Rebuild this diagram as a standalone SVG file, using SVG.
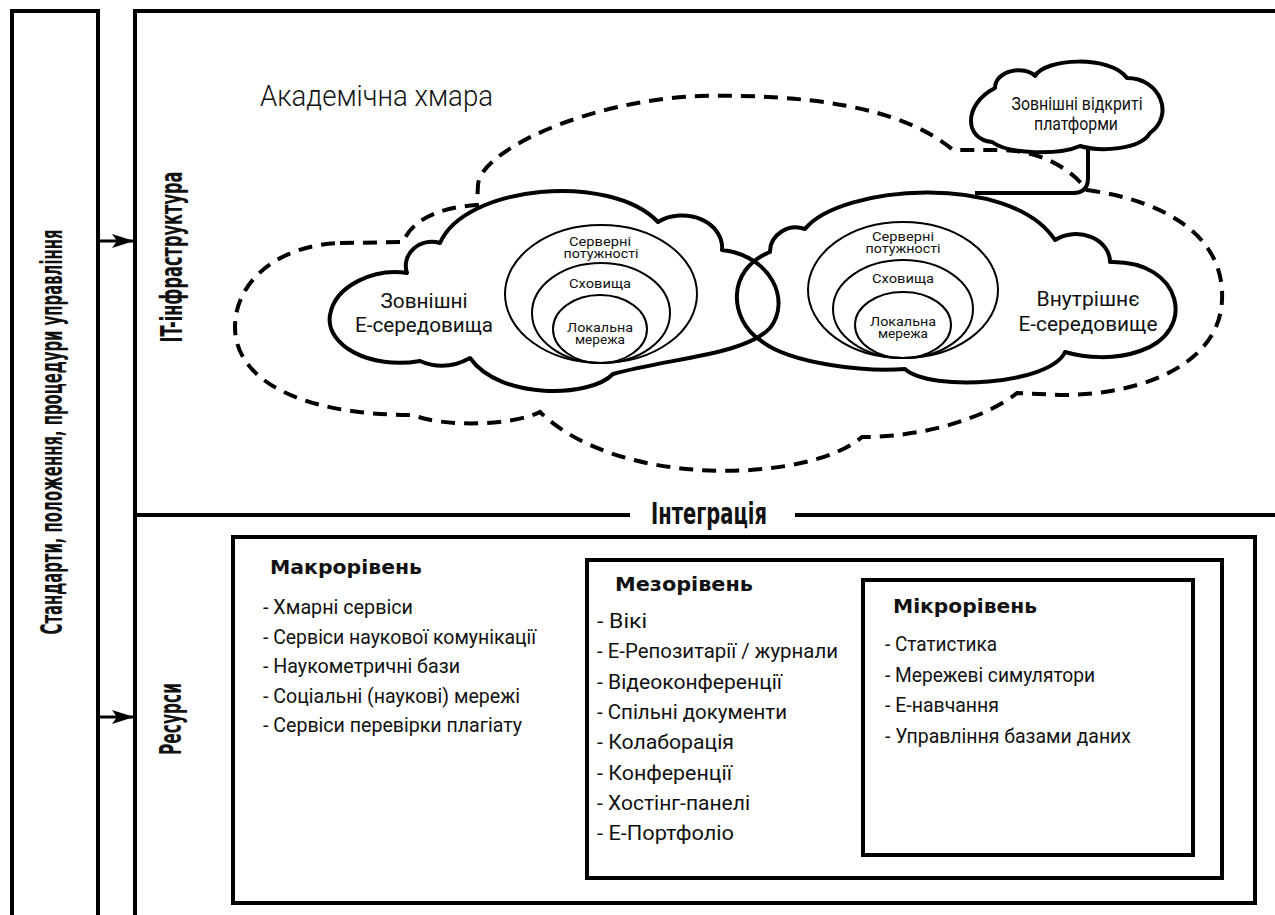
<svg xmlns="http://www.w3.org/2000/svg" width="1275" height="915" viewBox="0 0 1275 915">
  <defs>
    <style>
      .frame{fill:none;stroke:#000;stroke-width:4}
      .cloud{fill:none;stroke:#000;stroke-width:4;stroke-linejoin:round}
      .dash{fill:none;stroke:#000;stroke-width:4;stroke-dasharray:14 9}
      .ring{fill:none;stroke:#000;stroke-width:2}
      .link{fill:none;stroke:#000;stroke-width:3}
      text{fill:#111}
      .vlab{font-family:"Liberation Sans Narrow","DejaVu Sans Condensed","Liberation Sans",sans-serif;font-weight:bold;font-size:31px}
      .sans{font-family:Roboto,"Liberation Sans",sans-serif}
      .light{font-weight:300}
      .small{font-size:13px}
      .item{font-family:Roboto,"Liberation Sans",sans-serif;font-size:21px}
      .head{font-family:"DejaVu Sans","Liberation Sans",sans-serif;font-weight:bold;font-size:19px}
      .ctr{text-anchor:middle}
    </style>
    <marker id="arrow" markerUnits="userSpaceOnUse" markerWidth="24" markerHeight="16" refX="22" refY="8" orient="auto">
      <path d="M0,1 L22,8 L0,15 L5,8 Z" fill="#000"/>
    </marker>
  </defs>

  <rect width="1275" height="915" fill="#fff"/>

  <!-- left column: standards -->
  <g id="standards">
    <path class="frame" d="M12,915 V11 H98 V915"/>
    <text class="vlab ctr" transform="translate(62,432) rotate(-90)" textLength="405" lengthAdjust="spacingAndGlyphs">Стандарти, положення, процедури управління</text>
  </g>

  <!-- main frame with integration divider -->
  <g id="frame">
    <path class="frame" d="M135,915 V11 H1275"/>
    <path class="frame" d="M135,515 H630 M795,515 H1275"/>
    <text class="vlab ctr" x="709" y="524" font-size="24" textLength="116" lengthAdjust="spacingAndGlyphs">Інтеграція</text>
  </g>

  <g id="it-infrastructure">
    <text class="vlab ctr" transform="translate(182,257) rotate(-90)" textLength="171" lengthAdjust="spacingAndGlyphs">IT-інфраструктура</text>
  </g>

  <g id="resources">
    <text class="vlab ctr" transform="translate(181,719) rotate(-90)" textLength="72" lengthAdjust="spacingAndGlyphs">Ресурси</text>
    <rect class="frame" x="233" y="537" width="1022" height="366"/>
  </g>

  <!-- academic cloud (dashed) -->
  <g id="academic-cloud">
    <path class="dash" d="M340,243 L403,242 C410,225 430,208 477,205 L478,185 C480,150 590,100 700,96 C800,94 900,105 953,150 L1000,150 C1035,150 1068,165 1087,190 C1172,202 1225,240 1222,300 C1220,360 1150,395 1060,395 L1017,393 C990,415 930,437 862,437 C810,482 620,490 540,412 C515,425 445,428 413,415 C300,415 235,380 235,327 C235,280 280,245 340,243 Z"/>
    <text class="sans light" x="260" y="106" font-size="29" textLength="233" lengthAdjust="spacingAndGlyphs">Академічна хмара</text>
  </g>

  <!-- external e-environments -->
  <g id="external-env">
    <path class="cloud" d="M407,273 A26,24 0 0 1 440,243 C465,185 610,172 658,222 A40,32 0 0 1 722,250 C770,255 792,300 770,328 C745,355 670,358 613,374 C590,398 500,400 470,358 Q445,372 420,361 C370,370 325,345 330,315 C335,285 375,268 407,273 Z"/>
    <text class="sans ctr" x="424" y="308" font-size="21" textLength="87" lengthAdjust="spacingAndGlyphs">Зовнішні</text>
    <text class="sans ctr" x="424" y="332" font-size="21" textLength="138" lengthAdjust="spacingAndGlyphs">Е-середовища</text>
    <ellipse class="ring" cx="601" cy="294" rx="96" ry="69"/>
    <ellipse class="ring" cx="601" cy="313" rx="69" ry="50"/>
    <ellipse class="ring" cx="600" cy="329" rx="47" ry="34"/>
    <text class="sans small ctr"><tspan x="600" y="246" textLength="62" lengthAdjust="spacingAndGlyphs">Серверні</tspan><tspan x="601" y="258" textLength="75" lengthAdjust="spacingAndGlyphs">потужності</tspan></text>
    <text class="sans small ctr" x="600" y="288" textLength="62" lengthAdjust="spacingAndGlyphs">Сховища</text>
    <text class="sans small ctr"><tspan x="600" y="332" textLength="66" lengthAdjust="spacingAndGlyphs">Локальна</tspan><tspan x="600" y="344" textLength="50" lengthAdjust="spacingAndGlyphs">мережа</tspan></text>
  </g>

  <!-- internal e-environment -->
  <g id="internal-env">
    <path class="cloud" d="M770,252 A26,24 0 0 1 805,229 C840,185 1010,172 1055,240 A34,28 0 0 1 1110,262 C1183,260 1198,332 1140,351 C1115,360 1085,358 1065,352 C1050,385 930,392 905,369 C870,372 790,365 760,340 C730,320 725,270 770,252 Z"/>
    <text class="sans ctr" x="1088" y="306" font-size="21" textLength="103" lengthAdjust="spacingAndGlyphs">Внутрішнє</text>
    <text class="sans ctr" x="1088" y="331" font-size="21" textLength="139" lengthAdjust="spacingAndGlyphs">Е-середовище</text>
    <ellipse class="ring" cx="903" cy="290" rx="95" ry="68"/>
    <ellipse class="ring" cx="903" cy="309" rx="70" ry="49"/>
    <ellipse class="ring" cx="903" cy="325" rx="48" ry="33"/>
    <text class="sans small ctr"><tspan x="903" y="241" textLength="62" lengthAdjust="spacingAndGlyphs">Серверні</tspan><tspan x="903" y="253" textLength="75" lengthAdjust="spacingAndGlyphs">потужності</tspan></text>
    <text class="sans small ctr" x="903" y="283" textLength="62" lengthAdjust="spacingAndGlyphs">Сховища</text>
    <text class="sans small ctr"><tspan x="903" y="326" textLength="66" lengthAdjust="spacingAndGlyphs">Локальна</tspan><tspan x="903" y="338" textLength="50" lengthAdjust="spacingAndGlyphs">мережа</tspan></text>
  </g>

  <!-- external open platforms -->
  <g id="open-platforms">
    <path class="cloud" d="M992,142 C965,140 962,105 995,88 C995,70 1025,65 1035,76 C1045,58 1110,55 1127,78 C1160,78 1175,115 1150,133 C1140,150 1100,152 1080,146 C1060,155 1010,155 992,142 Z"/>
    <text class="sans ctr" x="1077" y="110" font-size="18" textLength="131" lengthAdjust="spacingAndGlyphs">Зовнішні відкриті</text>
    <text class="sans ctr" x="1076" y="130" font-size="18" textLength="84" lengthAdjust="spacingAndGlyphs">платформи</text>
  </g>

  <!-- macro level -->
  <g id="macro">
    <text class="head" x="270" y="574" textLength="152" lengthAdjust="spacingAndGlyphs">Макрорівень</text>
    <text class="item" x="263" y="614" textLength="150" lengthAdjust="spacingAndGlyphs">- Хмарні сервіси</text>
    <text class="item" x="263" y="643.5" textLength="273" lengthAdjust="spacingAndGlyphs">- Сервіси наукової комунікації</text>
    <text class="item" x="263" y="673" textLength="197" lengthAdjust="spacingAndGlyphs">- Наукометричні бази</text>
    <text class="item" x="263" y="702.5" textLength="257" lengthAdjust="spacingAndGlyphs">- Соціальні (наукові) мережі</text>
    <text class="item" x="263" y="732" textLength="259" lengthAdjust="spacingAndGlyphs">- Сервіси перевірки плагіату</text>
  </g>

  <!-- meso level -->
  <g id="meso">
    <rect class="frame" x="587" y="560" width="635" height="318"/>
    <text class="head" x="615" y="591" textLength="138" lengthAdjust="spacingAndGlyphs">Мезорівень</text>
    <text class="item" x="597" y="628" textLength="50" lengthAdjust="spacingAndGlyphs">- Вікі</text>
    <text class="item" x="597" y="658.3" textLength="241" lengthAdjust="spacingAndGlyphs">- Е-Репозитарії / журнали</text>
    <text class="item" x="597" y="688.6" textLength="185" lengthAdjust="spacingAndGlyphs">- Відеоконференції</text>
    <text class="item" x="597" y="718.9" textLength="190" lengthAdjust="spacingAndGlyphs">- Спільні документи</text>
    <text class="item" x="597" y="749.2" textLength="137" lengthAdjust="spacingAndGlyphs">- Колаборація</text>
    <text class="item" x="597" y="779.5" textLength="135" lengthAdjust="spacingAndGlyphs">- Конференції</text>
    <text class="item" x="597" y="809.8" textLength="153" lengthAdjust="spacingAndGlyphs">- Хостінг-панелі</text>
    <text class="item" x="597" y="840" textLength="137" lengthAdjust="spacingAndGlyphs">- Е-Портфоліо</text>
  </g>

  <!-- micro level -->
  <g id="micro">
    <rect class="frame" x="863" y="580" width="330" height="275"/>
    <text class="head" x="893" y="613" textLength="144" lengthAdjust="spacingAndGlyphs">Мікрорівень</text>
    <text class="item" x="885" y="651" textLength="112" lengthAdjust="spacingAndGlyphs">- Статистика</text>
    <text class="item" x="885" y="682" textLength="210" lengthAdjust="spacingAndGlyphs">- Мережеві симулятори</text>
    <text class="item" x="885" y="712" textLength="114" lengthAdjust="spacingAndGlyphs">- Е-навчання</text>
    <text class="item" x="885" y="743" textLength="246" lengthAdjust="spacingAndGlyphs">- Управління базами даних</text>
  </g>

  <!-- connectors -->
  <g id="connectors">
    <line class="link" x1="98" y1="241" x2="134" y2="241" marker-end="url(#arrow)"/>
    <line class="link" x1="98" y1="717" x2="134" y2="717" marker-end="url(#arrow)"/>
    <path class="cloud" d="M1088,148 V178 Q1088,193 1073,193 H975"/>
  </g>
</svg>
